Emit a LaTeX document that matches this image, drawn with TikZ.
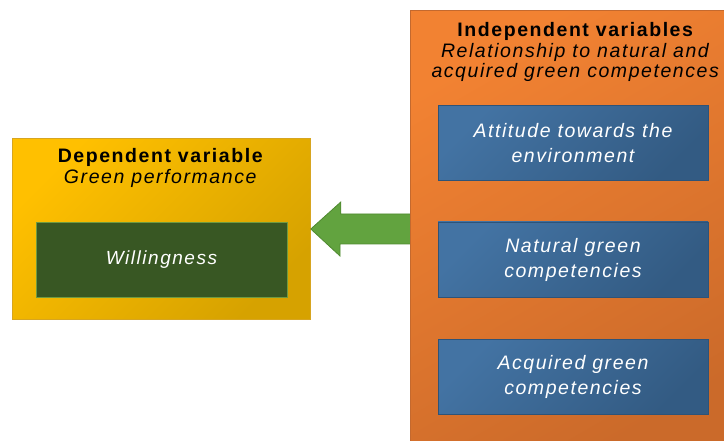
\documentclass[tikz,border=0pt]{standalone}
\usepackage{fontspec}
\setmainfont{Liberation Sans}[LetterSpace=8]
\usetikzlibrary{positioning}
\definecolor{yelA}{HTML}{FFC000}
\definecolor{yelB}{HTML}{D6A200}
\definecolor{yelE}{HTML}{D7A520}
\definecolor{grnF}{HTML}{385723}
\definecolor{grnE}{HTML}{6E9A42}
\definecolor{oraA}{HTML}{F28232}
\definecolor{oraB}{HTML}{CB6A2A}
\definecolor{oraE}{HTML}{C4692E}
\definecolor{bluA}{HTML}{4373A3}
\definecolor{bluB}{HTML}{335B83}
\definecolor{bluE}{HTML}{2E5378}
\definecolor{arrF}{HTML}{62A33F}
\definecolor{arrE}{HTML}{4F8A30}
\tikzset{
  outer/.style={draw=#1, line width=0.8pt, anchor=north west, inner sep=0pt},
  inbox/.style={minimum width=270pt, minimum height=75pt, draw=bluE, line width=0.8pt,
     top color=bluA, bottom color=bluB, shading angle=45, text=white,
     font=\fontsize{19.5}{25}\selectfont\itshape, align=center, inner sep=0pt},
  head/.style={align=center, font=\fontsize{19.5}{20.5}\selectfont, text=black}
}
\begin{document}
\begin{tikzpicture}[x=1pt,y=-1pt]
\useasboundingbox (0,0) rectangle (724,441);
\clip (0,0) rectangle (724,441);
% dependent box
\node[outer=yelE, minimum width=298pt, minimum height=181pt,
      top color=yelA, bottom color=yelB, shading angle=45] (dep) at (12,138) {};
\node[head] (deptitle) at (161,168) {\textbf{Dependent variable}\\\textit{Green performance}};
\node[minimum width=251pt, minimum height=75pt, draw=grnE, line width=0.8pt, fill=grnF,
      text=white, font=\fontsize{19}{22}\selectfont\itshape, inner sep=0pt] (will) at (161.5,259.5) {Willingness};
% arrow (drawn before independent box so its tail sits under it)
\coordinate (tip) at (dep.east |- 0,229);
\coordinate (tail) at (412,229);
\draw[draw=arrE, fill=arrF, line width=0.8pt]
  (tip) -- ++(30,-27) -- ++(0,12) -- (tail |- 0,214) -- (tail |- 0,244) -- (340,244) -- (340,256) -- cycle;
% independent box
\node[outer=oraE, minimum width=330pt, minimum height=445pt,
      top color=oraA, bottom color=oraB, shading angle=30] (ind) at (410,10) {};
\node[head] (indtitle) at (576,52) {\textbf{Independent variables}\\\textit{Relationship to natural and}\\\textit{acquired green competences}};
\node[inbox] (att) at (573,143) {Attitude towards the\\environment};
\node[inbox] (nat) at (573,259.5) {Natural green\\competencies};
\node[inbox] (acq) at (573,376.5) {Acquired green\\competencies};
\end{tikzpicture}
\end{document}
